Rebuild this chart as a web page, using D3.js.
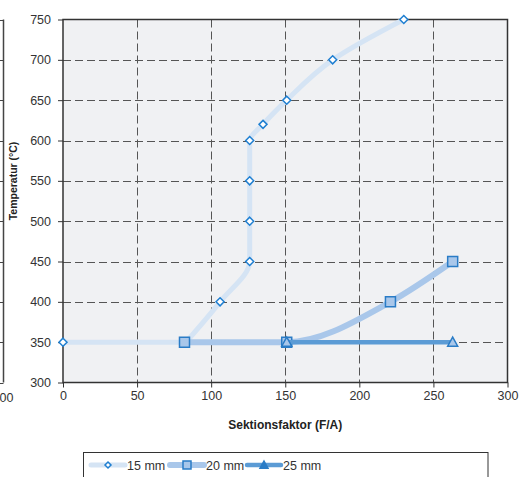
<!DOCTYPE html>
<html>
<head>
<meta charset="utf-8">
<script src="https://cdn.jsdelivr.net/npm/d3@7"></script>
<style>
  body { margin: 0; background: #fff; }
  svg { display: block; font-family: "Liberation Sans", Arial, sans-serif; }
</style>
</head>
<body>
<svg id="chart" width="519" height="477"></svg>
<script>
// data
var seriesNames = ["15 mm", "20 mm", "25 mm"];
var x15 = [0, 83, 106, 126, 126, 126, 126, 135, 151, 182, 230];
var y15 = [350, 350, 400, 450, 500, 550, 600, 620, 650, 700, 750];
var x20 = [82, 151, 221, 263];
var y20 = [350, 350, 400, 450];
var x25 = [151, 263];
var y25 = [350, 350];
var xTicks = [0, 50, 100, 150, 200, 250, 300];
var yTicks = [300, 350, 400, 450, 500, 550, 600, 650, 700, 750];

var svg = d3.select('#chart');
var dim = { left: 63, right: 507.5, top: 19.5, bottom: 382.5 };

var x = d3.scaleLinear().domain([0, 300]).range([dim.left, dim.right]);
var y = d3.scaleLinear().domain([300, 750]).range([dim.bottom, dim.top]);

var styles = [
    { line: "#d5e4f4", width: 5, marker: "diamond", fill: "#ffffff", stroke: "#1f7fd1" },
    { line: "#a9c7ea", width: 6, marker: "square", fill: "#a9c7ea", stroke: "#2a7cc6" },
    { line: "#5b9bd5", width: 4.5, marker: "triangle", fill: "#a9c7ea", stroke: "#2a7cc6" }
];
var series = [
    d3.zip(x15, y15),
    d3.zip(x20, y20),
    d3.zip(x25, y25)
];

// bit of the neighbouring chart that is cut off at the left
svg.append('line')
    .attr('x1', 3.5).attr('x2', 3.5)
    .attr('y1', dim.top).attr('y2', dim.bottom)
    .attr('stroke', '#444').attr('stroke-width', 1.5);
svg.selectAll('.ghost-tick').data(yTicks).enter()
    .append('line')
    .attr('class', 'ghost-tick')
    .attr('x1', 0).attr('x2', 3.5)
    .attr('y1', function(d) { return Math.round(y(d)) + 0.5; })
    .attr('y2', function(d) { return Math.round(y(d)) + 0.5; })
    .attr('stroke', '#444');
svg.append('text')
    .attr('x', 3).attr('y', 402)
    .attr('text-anchor', 'middle')
    .attr('font-size', '12.5px')
    .attr('fill', '#333')
    .text('300');

// plot background
svg.append('rect')
    .attr('x', dim.left).attr('y', dim.top)
    .attr('width', dim.right - dim.left).attr('height', dim.bottom - dim.top)
    .attr('fill', '#f0f1f3');

// dashed grid
svg.selectAll('.hgrid').data(yTicks.slice(1, -1)).enter()
    .append('line')
    .attr('class', 'hgrid')
    .attr('x1', dim.left).attr('x2', dim.right)
    .attr('y1', function(d) { return Math.round(y(d)) + 0.5; })
    .attr('y2', function(d) { return Math.round(y(d)) + 0.5; })
    .attr('stroke', '#555').attr('stroke-dasharray', '8,4');
svg.selectAll('.vgrid').data(xTicks.slice(1, -1)).enter()
    .append('line')
    .attr('class', 'vgrid')
    .attr('y1', dim.top).attr('y2', dim.bottom)
    .attr('x1', function(d) { return Math.round(x(d)) + 0.5; })
    .attr('x2', function(d) { return Math.round(x(d)) + 0.5; })
    .attr('stroke', '#555').attr('stroke-dasharray', '8,4');

// frame
svg.append('rect')
    .attr('x', dim.left).attr('y', dim.top)
    .attr('width', dim.right - dim.left).attr('height', dim.bottom - dim.top)
    .attr('fill', 'none').attr('stroke', '#333').attr('stroke-width', 1.5);

// axes
var xAxis = svg.append('g')
    .attr('transform', 'translate(0,' + dim.bottom + ')')
    .call(d3.axisBottom(x).tickValues(xTicks).tickSize(5).tickPadding(4));
var yAxis = svg.append('g')
    .attr('transform', 'translate(' + dim.left + ',0)')
    .call(d3.axisLeft(y).tickValues(yTicks).tickSize(5).tickPadding(7));
[xAxis, yAxis].forEach(function(g) {
    g.select('.domain').remove();
    g.selectAll('line').attr('stroke', '#333');
    g.selectAll('text').attr('fill', '#333')
        .attr('font-size', '12.5px')
        .attr('font-family', '"Liberation Sans", Arial, sans-serif');
});

// axis titles
svg.append('text')
    .attr('x', (dim.left + dim.right) / 2).attr('y', 429)
    .attr('text-anchor', 'middle')
    .attr('font-size', '12px').attr('font-weight', 'bold')
    .attr('fill', '#222')
    .text('Sektionsfaktor (F/A)');
svg.append('text')
    .attr('transform', 'translate(16.5,181) rotate(-90)')
    .attr('text-anchor', 'middle')
    .attr('font-size', '10.5px').attr('font-weight', 'bold')
    .attr('fill', '#222')
    .text('Temperatur (°C)');

function markerPath(type, size) {
    var s = size / 2;
    if (type === 'diamond') return 'M0,' + (-s) + 'L' + s + ',0L0,' + s + 'L' + (-s) + ',0Z';
    if (type === 'square') return 'M' + (-s) + ',' + (-s) + 'h' + size + 'v' + size + 'h' + (-size) + 'Z';
    return 'M0,' + (-s) + 'L' + s + ',' + (s * 0.8) + 'L' + (-s) + ',' + (s * 0.8) + 'Z';
}
var markerSize = [8, 10, 10];

var lineX = d3.line()
    .x(function(d) { return x(d[0]); })
    .y(function(d) { return y(d[1]); })
    .curve(d3.curveMonotoneX);
var lineY = d3.line()
    .x(function(d) { return x(d[0]); })
    .y(function(d) { return y(d[1]); })
    .curve(d3.curveMonotoneY);

function seriesPath(pts, i) {
    if (i > 0) return lineX(pts);
    // flat start, then smooth climb along the temperature axis
    return 'M' + x(pts[0][0]) + ',' + y(pts[0][1]) + 'L' + lineY(pts.slice(1)).slice(1);
}

series.forEach(function(pts, i) {
    var st = styles[i];
    svg.append('path')
        .attr('d', seriesPath(pts, i))
        .attr('fill', 'none')
        .attr('stroke', st.line)
        .attr('stroke-width', st.width)
        .attr('stroke-linejoin', 'round');
    svg.selectAll('.mk' + i).data(pts).enter()
        .append('path')
        .attr('class', 'mk' + i)
        .attr('transform', function(d) { return 'translate(' + x(d[0]) + ',' + y(d[1]) + ')'; })
        .attr('d', markerPath(st.marker, markerSize[i]))
        .attr('fill', st.fill)
        .attr('stroke', st.stroke)
        .attr('stroke-width', 1.5);
});

// legend
var legend = svg.append('g');
legend.append('rect')
    .attr('x', 83.5).attr('y', 452.5)
    .attr('width', 404.5).attr('height', 40)
    .attr('fill', '#fff').attr('stroke', '#333');
var legendX = [91, 170, 247];
seriesNames.forEach(function(name, i) {
    var st = styles[i];
    var g = legend.append('g').attr('transform', 'translate(' + legendX[i] + ',465)');
    g.append('line')
        .attr('x1', 0).attr('x2', 34)
        .attr('stroke', st.line).attr('stroke-width', st.width)
        .attr('stroke-linecap', 'round');
    g.append('path')
        .attr('transform', 'translate(17,0)')
        .attr('d', markerPath(st.marker, i === 0 ? 6 : 8))
        .attr('fill', i === 2 ? '#2a7cc6' : st.fill)
        .attr('stroke', st.stroke).attr('stroke-width', 1.5);
    g.append('text')
        .attr('x', 36).attr('y', 4.5)
        .attr('font-size', '12.5px')
        .attr('fill', '#333')
        .text(name);
});
</script>
</body>
</html>
